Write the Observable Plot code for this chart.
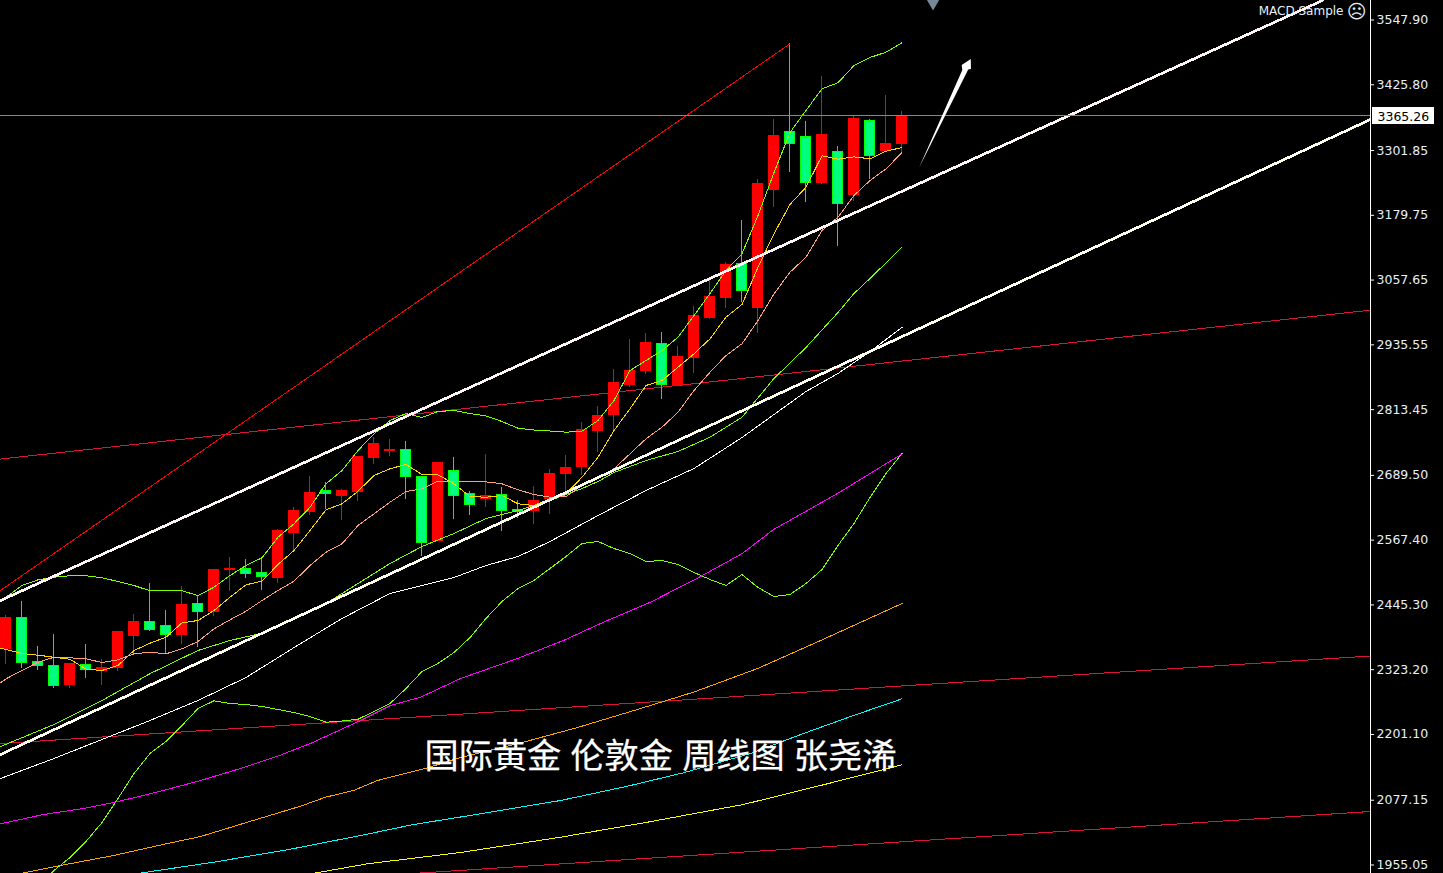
<!DOCTYPE html>
<html><head><meta charset="utf-8">
<script src="https://cdn.jsdelivr.net/npm/d3@7"></script>
<script src="https://cdn.jsdelivr.net/npm/@observablehq/plot@0.6"></script>
<style>html,body{margin:0;padding:0;background:#000;overflow:hidden}svg{display:block}</style>
</head><body><div id="chart"></div>
<script>
const openP = [2362.2,2420,2337.7,2329.6,2292.5,2331.5,2320.2,2326.4,2386.7,2412.5,2403.7,2388.6,2445.2,2430.6,2509.3,2512.4,2503.6,2496,2579,2620.4,2660,2650.6,2656.3,2720.4,2733.6,2736.8,2686.4,2564.5,2695.9,2653.8,2643.1,2652,2624.2,2621,2644.9,2690.8,2703.9,2771.3,2803.3,2858,2884.9,2936.6,2857.4,2910.7,2984.3,3022.5,3087.9,3003.7,3227.4,3334.9,3327.3,3240.6,3297.2,3218,3357.5,3299.1,3312.3];
const closeP = [2418.8,2334.5,2328.9,2291.1,2332.1,2321.3,2326.4,2392.4,2413.1,2398,2387.3,2443.3,2430.1,2509.3,2513,2502.3,2496.6,2582.8,2622.3,2654.4,2653.1,2658.2,2722.3,2746.8,2735.5,2685.1,2560.7,2712.8,2649.3,2631.8,2650.6,2621,2619.1,2641.2,2692,2703.4,2773.2,2801.4,2861.8,2884.4,2939,2858.5,2912.6,2989.9,3025.7,3086,3035.7,3238.7,3329.2,3314.1,3239.3,3331,3199.7,3359.4,3291.5,3312.3,3365.26];
const highP = [2424.4,2450.8,2366,2388.6,2332.1,2369.8,2341.5,2394.8,2426.3,2484.7,2433.9,2479,2462.1,2511.2,2533.7,2529.4,2530,2586.5,2627.4,2686.4,2674.6,2661.4,2724.1,2759.4,2756.2,2751.8,2686.4,2712.8,2722.3,2658.2,2727.9,2665.1,2641.2,2667.6,2699.6,2726,2788.2,2818.4,2888.1,2944.7,2956,2957.9,2931.5,3006.9,3059.7,3089.8,3169,3246.3,3359.4,3502.1,3355.6,3440.4,3308.5,3366.9,3359.4,3404.6,3374.5];
const lowP = [2332.1,2324.5,2320.8,2287.4,2287.4,2306.2,2292.5,2319.4,2352.8,2394.2,2352.8,2369.8,2364.7,2423.1,2469.7,2494.2,2471.6,2484.7,2546.9,2612.9,2624.2,2603.5,2639.3,2709.1,2724.7,2643.1,2535.6,2563.9,2605.4,2612.9,2628.5,2583.3,2607.8,2596,2614.8,2654.4,2688.3,2731.7,2771.3,2853.6,2878.7,2832.2,2856.1,2880.6,2982.4,3003.7,3015,2956.5,3194.1,3259.5,3202.9,3236.9,3120,3204.8,3246.3,3297.2,3295.3];

// moving averages, one value per candle, starting at candle -1
const ma5 = [2367.9,2360.3,2352.8,2349.6,2345.8,2342,2323.2,2320.8,2330.2,2358.5,2372.2,2383.5,2410.6,2415,2433.8,2458.9,2482.3,2489.1,2520.6,2546.9,2584.6,2623.7,2635,2658.7,2688.3,2701,2709.1,2690.2,2689.6,2672.7,2648.7,2647.4,2650.6,2635,2631.8,2644.4,2653.8,2685.1,2722.8,2773.2,2814,2858,2867.4,2892.5,2917.7,2946,2986.7,3010.7,3081,3143.9,3199.2,3231.8,3291,3284.5,3289,3285.3,3299.6,3306.6];
const ma10 = [2283,2305.1,2320.8,2336.4,2345.8,2344.7,2342.8,2335.8,2340.9,2352.2,2355.2,2352.2,2361.6,2375.4,2399.3,2416.3,2432.5,2452.7,2471.6,2489.1,2518.7,2543.7,2559.6,2594.1,2616.1,2638,2658.2,2663.3,2677.6,2677.6,2676.4,2676.4,2672.7,2661.4,2652.5,2647.4,2648.7,2669.5,2685.1,2701,2729.2,2757.5,2779.4,2807.6,2848.6,2883,2914.5,2936.6,2980.5,3030.8,3071.5,3099.8,3150.2,3175.2,3216.1,3244.4,3266.4,3297];
const bandUpper = [2443.3,2458.9,2481,2491.7,2496.6,2499.3,2499.3,2495.5,2488.5,2481,2471,2471,2471,2462.1,2477.8,2499.8,2518.7,2533.2,2572,2597.3,2628.5,2672.7,2697.8,2735.5,2766.9,2792,2805.2,2797.6,2809,2810.9,2805.2,2800.5,2790.1,2777.5,2774.1,2772.2,2770,2771.8,2792,2829.7,2886.2,2905.1,2923.9,2949,2989.9,3031.4,3074.8,3106.2,3178.4,3259.5,3334.9,3376.4,3417.3,3428.6,3461.2,3476.3,3486.2,3504];
// wave line, one value per candle, starting at candle 2
const wave = [1915.5,1943.8,1968.3,1998.4,2034.2,2079.5,2126.6,2164.3,2187,2217.1,2249.1,2263.6,2258.5,2256.7,2252.9,2247.2,2241.6,2234,2223.3,2225.5,2228.9,2243.5,2258.5,2286.8,2318.9,2334,2354.7,2382.9,2418.8,2450.8,2475.3,2490.4,2513,2535.6,2560.2,2563.9,2550.7,2541.3,2526.2,2528.1,2520.6,2505.5,2492.3,2481,2501.7,2477.2,2460.2,2464,2484.7,2511.1,2556.4,2597.8,2646.9,2692.1,2729.8];

// [candle index, price] readings
const bandLower = [[-0.34,2177.5],[3,2218.9],[6,2264.2],[9,2314.8],[12,2358.5],[14,2377.3],[16,2391],[18,2418.8],[20,2447],[22,2484.7],[24,2522.4],[26,2554.5],[28,2579],[30,2607.3],[32,2622.3],[34,2641.2],[36,2663.8],[37,2677],[38,2694],[40,2716.6],[42,2733.6],[44,2760.5],[46,2798.2],[48,2871.2],[50,2929.6],[52,2995.6],[53,3031.4],[54,3059.7],[56,3118.7]];
const maWhite = [[-0.34,2117.2],[3,2154.9],[6,2190.7],[9,2226.5],[12,2264.2],[15,2307.5],[18,2364],[21,2418.8],[24,2465.9],[26,2481],[28,2496],[30,2518.7],[32,2535.6],[34,2563.9],[37,2612.9],[40,2660],[43,2701.5],[46,2759.9],[48,2803.3],[50,2846.7],[52,2880.6],[54,2922],[56,2967.3]];
const maMagenta = [[-0.34,2031.8],[2.34,2049.3],[4.84,2060.6],[6.84,2072.5],[9.66,2093.2],[12.16,2113.4],[14.66,2136],[16.97,2159.2],[19.03,2183.2],[22.16,2226.5],[24.03,2254.8],[25.91,2270.4],[28.41,2305.7],[31.97,2343.4],[34.84,2377.3],[37.34,2411.8],[40.28,2449.5],[43.41,2497.9],[46.02,2541.3],[47.97,2586.5],[51.97,2654.4],[56,2728.9]];
const maOrange = [[0.91,1938.1],[3.41,1953.2],[6.72,1972],[10.09,1994.6],[12.16,2007.8],[15.09,2034.8],[18.41,2065],[19.97,2081.9],[21.72,2094.6],[23.22,2113.4],[26.34,2137.3],[28.41,2156.8],[32.34,2185.6],[35.72,2213.3],[39.66,2249.1],[42.97,2279.9],[46.97,2324.5],[50.91,2377.3],[56,2447]];
const maCyan = [[8.22,1938.1],[12.97,1959.4],[17.59,1982.8],[22.16,2009.7],[25.47,2030.4],[28.41,2044.6],[34.66,2075.7],[38.84,2102.6],[42.34,2127.9],[46.53,2164.3],[49.84,2202],[52.97,2235.9],[56,2267.4]];
const maYellow = [[19.16,1938.1],[22.59,1956.4],[28.41,1977.7],[34.66,2006.5],[40.09,2034.8],[46.09,2068.2],[51.34,2107.2],[56,2142.9]];

// drawn trend lines
const channelUpper = [[-0.344,2452.7],[82.28,3583.7]];
const channelLower = [[-0.344,2162.4],[85.28,3359.4]];
const redRay = [[-0.344,2471.6],[49,3502.1]];
const crimsonA = [[-0.344,2719.4],[85.28,3000]];
const crimsonB = [[-0.344,2183.1],[85.28,2348.1]];
const crimsonC = [[25.41,1938.1],[85.28,2055]];

// arrow outline: left edge and right edge, tail to tip
const arrowLeft = [[57.09,3267],[59.8,3451.8],[59.76,3461.2],[60.33,3472.5]];
const arrowRight = [[57.09,3267],[60.17,3452.7],[60.34,3453.6],[60.33,3472.5]];

const priceTicks = [3547.90,3425.80,3301.85,3179.75,3057.65,2935.55,2813.45,2689.50,2567.40,2445.30,2323.20,2201.10,2077.15,1955.05];
const lastPrice = 3365.26;
const titleText = "国际黄金 伦敦金 周线图 张尧浠";
const eaText = "MACD Sample";

const candles = openP.map((o,i)=>({i,o,c:closeP[i],h:highP[i],l:lowP[i],up:closeP[i]>=o}));
const crisp = {shapeRendering:"crispEdges"};
const seq = (vals,start)=>vals.map((v,k)=>[start+k,v]);
const ln = (pts,stroke,w=1)=>Plot.line(pts,{x:d=>d[0],y:d=>d[1],stroke,strokeWidth:w,clip:true,...crisp});
const tick = "#e6f0fa";

const chart = Plot.plot({
  width:1443,height:873,marginTop:0,marginBottom:0,marginLeft:0,marginRight:73,
  style:{background:"#000",overflow:"visible"},
  x:{domain:[-0.34375,85.28125],range:[0,1370],axis:null},
  y:{domain:[1938.1,3583.7],range:[873,0],axis:null},
  marks:[
    ln(crimsonA,"#dc143c"),ln(crimsonB,"#dc143c"),ln(crimsonC,"#dc143c"),
    Plot.ruleX(candles,{x:"i",y1:"l",y2:"h",stroke:d=>d.up?"#ff0000":"#00ff00",strokeWidth:1,dx:-0.5,...crisp}),
    Plot.rect(candles,{x1:d=>d.i-5/16,x2:d=>d.i+5/16,y1:"o",y2:"c",fill:d=>d.up?"#ff0000":"#00ff7f",stroke:d=>d.up?"#ff0000":"#00ff00",strokeWidth:1,...crisp}),
    ln(redRay,"#ff0000"),
    ln(seq(wave,2),"#7fff00"),
    ln(seq(bandUpper,-1),"#7fff00"),
    ln(bandLower,"#7fff00"),
    ln(maWhite,"#ffffff"),
    ln(maMagenta,"#ff00ff"),
    ln(maOrange,"#ffa500"),
    ln(maCyan,"#00ffff"),
    ln(maYellow,"#ffff00"),
    ln(seq(ma10,-1),"#ffa07a"),
    ln(seq(ma5,-1),"#ffd700"),
    ln(channelUpper,"#fff5f5",2.7),
    ln(channelLower,"#fffff0",2.7),
    Plot.ruleY([lastPrice],{x1:-0.34375,x2:85.28125,stroke:"#808890",strokeWidth:1,dy:-1,...crisp}),
    Plot.area(arrowLeft.map((d,k)=>({l:d,r:arrowRight[k]})),{x1:d=>d.l[0],y1:d=>d.l[1],x2:d=>d.r[0],y2:d=>d.r[1],fill:"#ffffff"}),
    Plot.dot([57.94],{x:d=>d,y:[3583.7],symbol:"triangle",r:6.5,rotate:180,fill:"#778899",stroke:null,clip:true}),
    Plot.text([titleText],{frameAnchor:"top-left",dx:424,dy:757,lineAnchor:"middle",textAnchor:"start",fill:"#ffffff",stroke:"#ffffff",strokeWidth:0.25,fontSize:34.2,fontFamily:"Noto Sans CJK SC"}),
    Plot.ruleX([85.28125],{stroke:"#ffffff",strokeWidth:1,dx:-0.5,...crisp}),
    Plot.axisY(priceTicks,{anchor:"right",label:null,tickFormat:d=>d.toFixed(2),tickSize:3,tickPadding:3,stroke:"#ffffff",color:tick,fill:tick,fontSize:12.5,fontFamily:"DejaVu Sans",dy:0.5}),
    Plot.rect([lastPrice],{x1:85.4,x2:89.28,y1:d=>d-16,y2:d=>d+16,fill:"#ffffff",...crisp}),
    Plot.text([lastPrice],{x:85.28125,y:d=>d,dx:7,dy:1,text:d=>d.toFixed(2),textAnchor:"start",fill:"#000000",fontSize:12.5,fontFamily:"DejaVu Sans"}),
    Plot.text([eaText],{frameAnchor:"top-right",dx:-27,dy:10.5,lineAnchor:"middle",textAnchor:"end",fill:tick,fontSize:12,fontFamily:"DejaVu Sans"}),
    Plot.text(["\u2639"],{frameAnchor:"top-right",dx:-4,dy:11,lineAnchor:"middle",textAnchor:"end",fill:tick,fontSize:19,fontFamily:"DejaVu Sans"})
  ]
});
d3.select(chart).selectAll("text").filter(function(){return this.textContent===titleText}).style("word-spacing","1.5px");
document.getElementById("chart").append(chart);
</script></body></html>
